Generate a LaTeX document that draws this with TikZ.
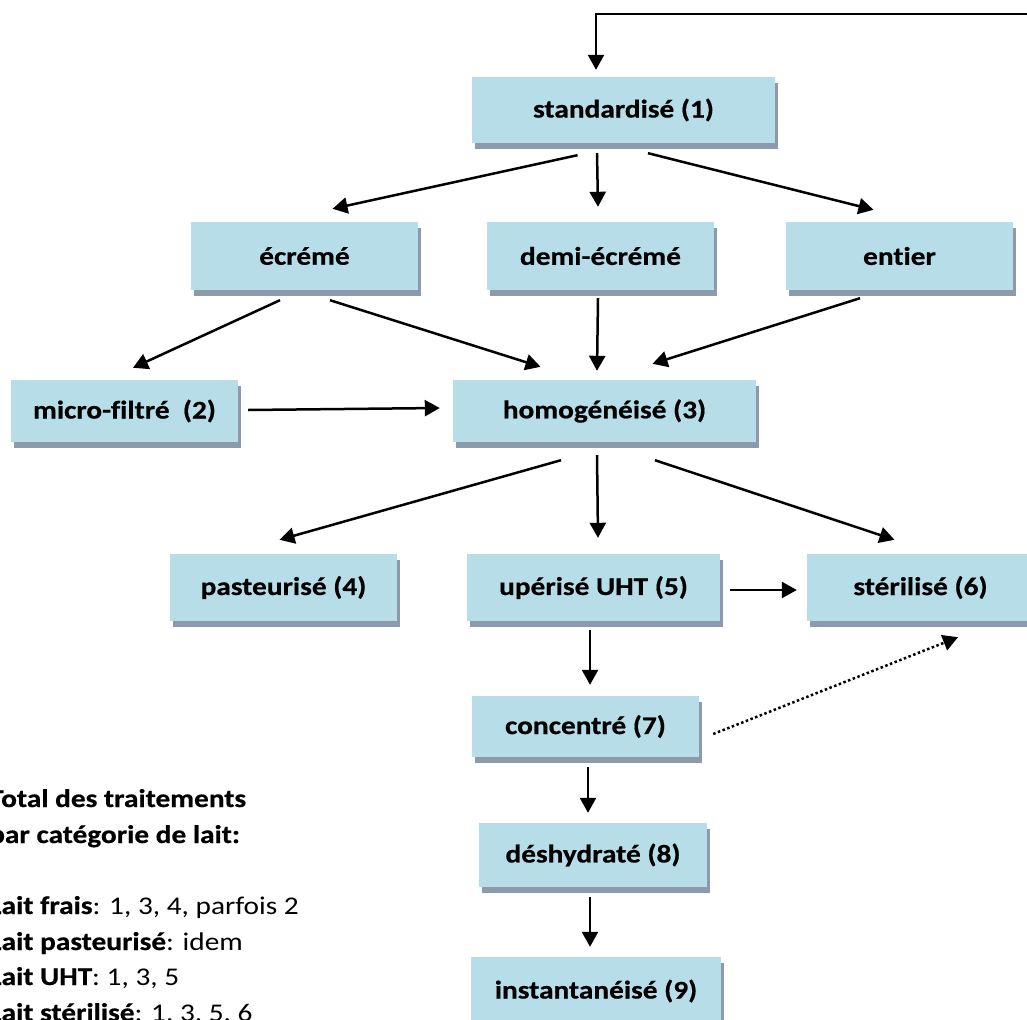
\documentclass[tikz,border=0pt]{standalone}
\usepackage{fontspec}
\setmainfont{Carlito}[FakeStretch=1.15, Ligatures={NoCommon}, BoldFeatures={FakeBold=0.6}]
\usetikzlibrary{arrows.meta,shadows}
\definecolor{boxblue}{HTML}{B7DDE8}
\definecolor{shadowgray}{HTML}{8C9AAB}
\begin{document}
\begin{tikzpicture}[x=1pt,y=-1pt,
  box/.style={fill=boxblue, draw=none, inner sep=0pt,
    font=\fontsize{25.5}{30}\selectfont\bfseries,
    drop shadow={shadow xshift=3pt, shadow yshift=-6pt, fill=shadowgray, opacity=1}},
  arr/.style={line width=2.5pt, -{Triangle[length=15pt,width=16pt]}},
  dotarr/.style={line width=2.5pt, dash pattern=on 2.5pt off 2.5pt, -{Triangle[length=15pt,width=16pt]}},
  legend/.style={anchor=base west, inner sep=0pt, font=\fontsize{25.5}{30}\selectfont}]
\useasboundingbox (0,0) rectangle (1027,1019);
\clip (0,0) rectangle (1027,1019);

% boxes
\node[box, minimum width=303pt, minimum height=66pt] (std)  at (623.5,110)   {standardisé (1)};
\node[box, minimum width=227pt, minimum height=68pt] (ecr)  at (304.5,256)   {écrémé};
\node[box, minimum width=227pt, minimum height=68pt] (demi) at (600.5,256)   {demi-écrémé\hspace{24pt}};
\node[box, minimum width=227pt, minimum height=68pt] (ent)  at (899.5,256)   {entier};
\node[box, minimum width=227pt, minimum height=62pt] (mic)  at (124.5,411)   {micro-filtré\ \ (2)};
\node[box, minimum width=303pt, minimum height=62pt] (hom)  at (604.5,411)   {homogénéisé (3)};
\node[box, minimum width=227pt, minimum height=67pt] (pas)  at (283.5,587.5) {pasteurisé (4)};
\node[box, minimum width=253pt, minimum height=67pt] (uht)  at (593.5,587.5) {upérisé UHT (5)};
\node[box, minimum width=227pt, minimum height=67pt] (ste)  at (920.5,587.5) {stérilisé (6)};
\node[box, minimum width=227pt, minimum height=61pt] (con)  at (585.5,726.5) {concentré (7)};
\node[box, minimum width=228pt, minimum height=64pt] (des)  at (593,855)     {déshydraté (8)};
\node[box, minimum width=250pt, minimum height=68pt] (ins)  at (596,991)     {instantanéisé (9)};

% loop from the right edge
\coordinate (loopin) at (1030,14);
\draw[arr] (loopin) -| ([xshift=-27.5pt,yshift=7pt]std.north);

% connectors
\draw[arr] ([xshift=-46pt,yshift=-12pt]std.south) -- ([xshift=28pt,yshift=13pt]ecr.north);
\draw[arr] ([xshift=-26.5pt,yshift=-10pt]std.south) -- ([xshift=-2.5pt,yshift=15pt]demi.north);
\draw[arr] ([xshift=24.5pt,yshift=-10pt]std.south) -- ([xshift=-26pt,yshift=12pt]ent.north);

\draw[arr] ([xshift=-24.5pt,yshift=-10pt]ecr.south) -- ([xshift=8.5pt,yshift=12pt]mic.north);
\draw[arr] ([xshift=25.5pt,yshift=-10pt]ecr.south) -- ([xshift=-64pt,yshift=13pt]hom.north);
\draw[arr] ([xshift=-2.5pt,yshift=-8pt]demi.south) -- ([xshift=-7.5pt,yshift=9pt]hom.north);
\draw[arr] ([xshift=-39.5pt,yshift=-8pt]ent.south) -- ([xshift=48pt,yshift=16pt]hom.north);
\draw[arr] ([xshift=10pt,yshift=1pt]mic.east) -- ([xshift=-13pt,yshift=3pt]hom.west);

\draw[arr] ([xshift=-43.5pt,yshift=-18pt]hom.south) -- ([xshift=-4pt,yshift=14pt]pas.north);
\draw[arr] ([xshift=-7.5pt,yshift=-13pt]hom.south) -- ([xshift=4.5pt,yshift=16pt]uht.north);
\draw[arr] ([xshift=50.5pt,yshift=-18pt]hom.south) -- ([xshift=-26pt,yshift=14pt]ste.north);

\draw[arr] ([xshift=10pt,yshift=-2.5pt]uht.east) -- ([xshift=-10pt,yshift=-2.5pt]ste.west);
\draw[arr] ([xshift=-3.5pt,yshift=-9pt]uht.south) -- ([xshift=4.5pt,yshift=11pt]con.north);
\draw[dotarr] ([xshift=14pt,yshift=-7.5pt]con.east) -- ([xshift=37.5pt,yshift=-16pt]ste.south);
\draw[arr] ([xshift=2.5pt,yshift=-10pt]con.south) -- ([xshift=-5pt,yshift=10pt]des.north);
\draw[arr] ([xshift=-3pt,yshift=-10pt]des.south) -- ([xshift=-6pt,yshift=10pt]ins.north);

% legend text
\node[legend] (t1) at (-11,807)  {\textbf{Total des traitements}};
\node[legend] (t2) at (-11,843)  {\textbf{par catégorie de lait:}};
\node[legend] (t3) at (-11,914)  {\textbf{Lait frais}: 1, 3, 4, parfois 2};
\node[legend] (t4) at (-11,950)  {\textbf{Lait pasteurisé}: idem};
\node[legend] (t5) at (-11,985)  {\textbf{Lait UHT}: 1, 3, 5};
\node[legend] (t6) at (-11,1021) {\textbf{Lait stérilisé}: 1, 3, 5, 6};
\end{tikzpicture}
\end{document}
